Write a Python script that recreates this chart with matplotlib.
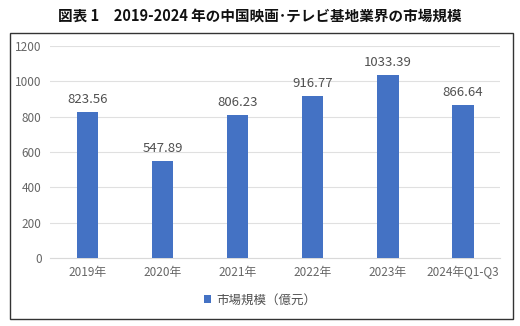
import matplotlib
matplotlib.use("Agg")
import matplotlib.pyplot as plt
from matplotlib.patches import Rectangle

plt.rcParams['font.family'] = ['Noto Sans CJK JP', 'DejaVu Sans']

years = ['2019年', '2020年', '2021年', '2022年', '2023年', '2024年Q1-Q3']
values = [823.56, 547.89, 806.23, 916.77, 1033.39, 866.64]
yticks = [0, 200, 400, 600, 800, 1000, 1200]

fig = plt.figure(figsize=(5.2, 3.26), dpi=100)
ax = fig.add_axes([0.096, 0.209, 0.866, 0.650])

# outer frame
fig.patches.append(Rectangle((0.019, 0.021), 0.968, 0.878, transform=fig.transFigure,
                             fill=False, edgecolor='#333333', linewidth=1.0))

x = range(len(years))
bars = ax.bar(x, values, width=0.29, color='#4472C4', label='市場規模（億元）', zorder=3)
for i, v in enumerate(values):
    ax.text(i, v + 35, f'{v:.2f}', ha='center', va='bottom', fontsize=9.5, color='#505050')

ax.set_ylim(0, 1200)
ax.set_xlim(-0.5, len(years) - 0.5)
ax.set_yticks(yticks)
ax.set_xticks(list(x))
ax.set_xticklabels(years)
ax.tick_params(axis='both', length=0, labelsize=8.5, labelcolor='#666666', pad=6)
ax.grid(axis='y', color='#E0E0E0', linewidth=0.8, zorder=0)
for s in ['top', 'right', 'left']:
    ax.spines[s].set_visible(False)
ax.spines['bottom'].set_color('#D9D9D9')

fig.legend(handles=[bars], labels=['市場規模（億元）'], loc='center', bbox_to_anchor=(0.5, 0.08),
           frameon=False, fontsize=9, handlelength=0.6, handleheight=0.6, handletextpad=0.4,
           labelcolor='#505050')

fig.text(0.5, 0.952, '図表 1　2019-2024 年の中国映画･テレビ基地業界の市場規模', ha='center', va='center',
         fontsize=10.5, fontweight='bold', color='#111111')

fig.savefig('out.png', dpi=100)
